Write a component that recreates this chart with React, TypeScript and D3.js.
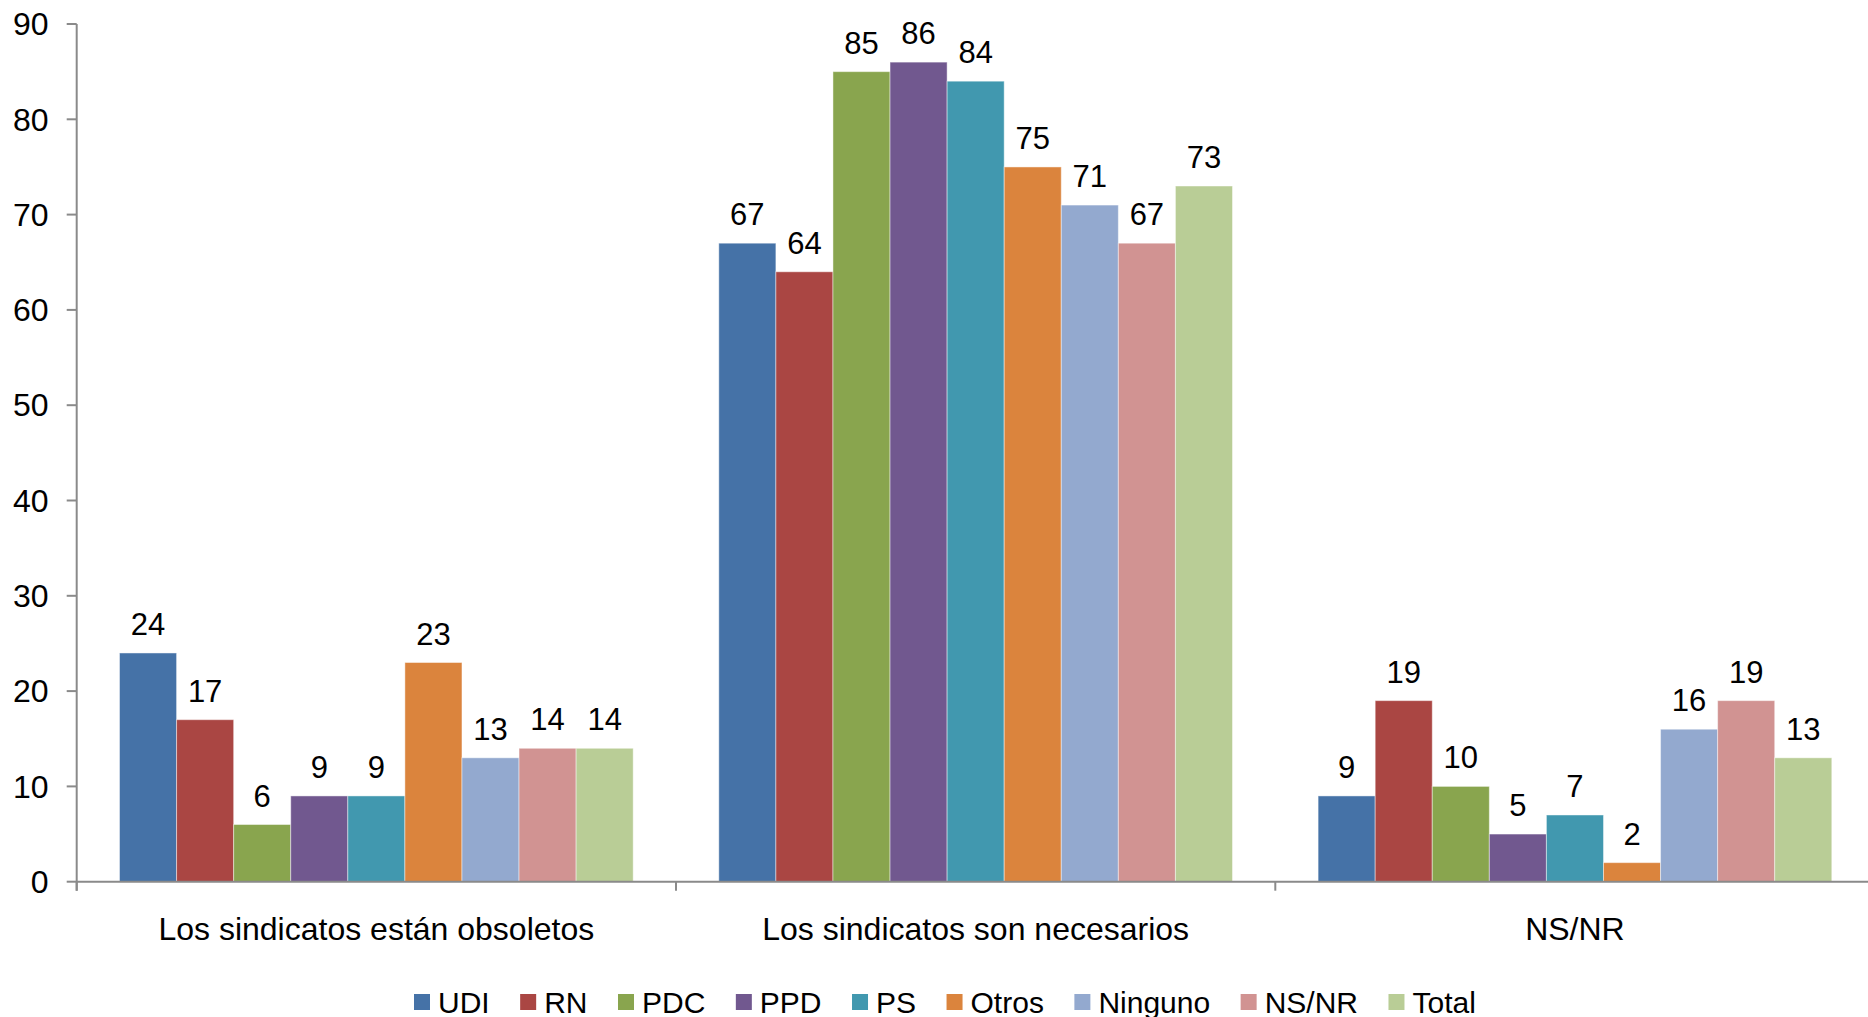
import React from "react";
import * as d3 from "d3";

const categories = [
  "Los sindicatos están obsoletos",
  "Los sindicatos son necesarios",
  "NS/NR",
];
const seriesNames = ["UDI", "RN", "PDC", "PPD", "PS", "Otros", "Ninguno", "NS/NR", "Total"];
const seriesColors = ["#4572A7", "#AA4643", "#89A54E", "#71588F", "#4198AF", "#DB843D", "#93A9CF", "#D19392", "#B9CD96"];
const UDI = [24, 67, 9];
const RN = [17, 64, 19];
const PDC = [6, 85, 10];
const PPD = [9, 86, 5];
const PS = [9, 84, 7];
const Otros = [23, 75, 2];
const Ninguno = [13, 71, 16];
const NSNR = [14, 67, 19];
const Total = [14, 73, 13];
const seriesValues = [UDI, RN, PDC, PPD, PS, Otros, Ninguno, NSNR, Total];
const yTicks = [0, 10, 20, 30, 40, 50, 60, 70, 80, 90];

const W = 1868;
const H = 1017;
const FONT = "'Liberation Sans', Arial, sans-serif";
const AXIS = "#8a8a8a";

function measure(text: string, size: number): number {
  const c = document.createElement("canvas").getContext("2d");
  if (!c) return text.length * size * 0.55;
  c.font = `${size}px 'Liberation Sans', Arial, sans-serif`;
  return c.measureText(text).width;
}

export default function App() {
  const left = 76.7;
  const right = 1874.6;
  const y = d3.scaleLinear().domain([0, 90]).range([881.7, 24]);
  const x0 = d3.scaleBand<string>().domain(categories).range([left, right]).paddingInner(0).paddingOuter(0);
  const x1 = d3.scaleBand<string>().domain(seriesNames).range([0, x0.bandwidth()]).paddingInner(0).paddingOuter(0.75);

  const legendSize = 30;
  let lx = 414;
  const legendItems = seriesNames.map((name, i) => {
    const item = { name, color: seriesColors[i], x: lx };
    lx += 24 + measure(name, legendSize) + 30.5;
    return item;
  });

  const boundaries = categories.map((c) => x0(c) as number).concat([right]);

  return (
    <svg width={W} height={H} style={{ position: "absolute", left: 0, top: 0, background: "#fff" }} fontFamily={FONT}>
      {/* bars */}
      {categories.map((cat, ci) =>
        seriesNames.map((s, si) => {
          const v = seriesValues[si][ci];
          const bx = (x0(cat) as number) + (x1(s) as number);
          return (
            <g key={cat + s}>
              <rect
                x={bx}
                y={y(v)}
                width={x1.bandwidth()}
                height={y(0) - y(v)}
                fill={seriesColors[si]}
                stroke="#ffffff"
                strokeOpacity={0.45}
                strokeWidth={1}
              />
              <text x={bx + x1.bandwidth() / 2} y={y(v) - 18} textAnchor="middle" fontSize={31} fill="#000">
                {v}
              </text>
            </g>
          );
        })
      )}
      {/* y axis */}
      <line x1={left} x2={left} y1={y(90)} y2={y(0) + 9} stroke={AXIS} strokeWidth={2} />
      {yTicks.map((t) => (
        <g key={t}>
          <line x1={left - 10} x2={left} y1={y(t)} y2={y(t)} stroke={AXIS} strokeWidth={2} />
          <text x={48.5} y={y(t)} dy="0.35em" textAnchor="end" fontSize={32} fill="#000">
            {t}
          </text>
        </g>
      ))}
      {/* x axis */}
      <line x1={left} x2={right} y1={y(0)} y2={y(0)} stroke={AXIS} strokeWidth={2} />
      {boundaries.map((b, i) => (
        <line key={i} x1={b} x2={b} y1={y(0)} y2={y(0) + 9} stroke={AXIS} strokeWidth={2} />
      ))}
      {categories.map((cat) => (
        <text key={cat} x={(x0(cat) as number) + x0.bandwidth() / 2} y={940} textAnchor="middle" fontSize={32} fill="#000">
          {cat}
        </text>
      ))}
      {/* legend */}
      {legendItems.map((it) => (
        <g key={it.name}>
          <rect x={it.x} y={994} width={16} height={16} fill={it.color} />
          <text x={it.x + 24} y={1013.3} fontSize={legendSize} fill="#000">
            {it.name}
          </text>
        </g>
      ))}
    </svg>
  );
}
